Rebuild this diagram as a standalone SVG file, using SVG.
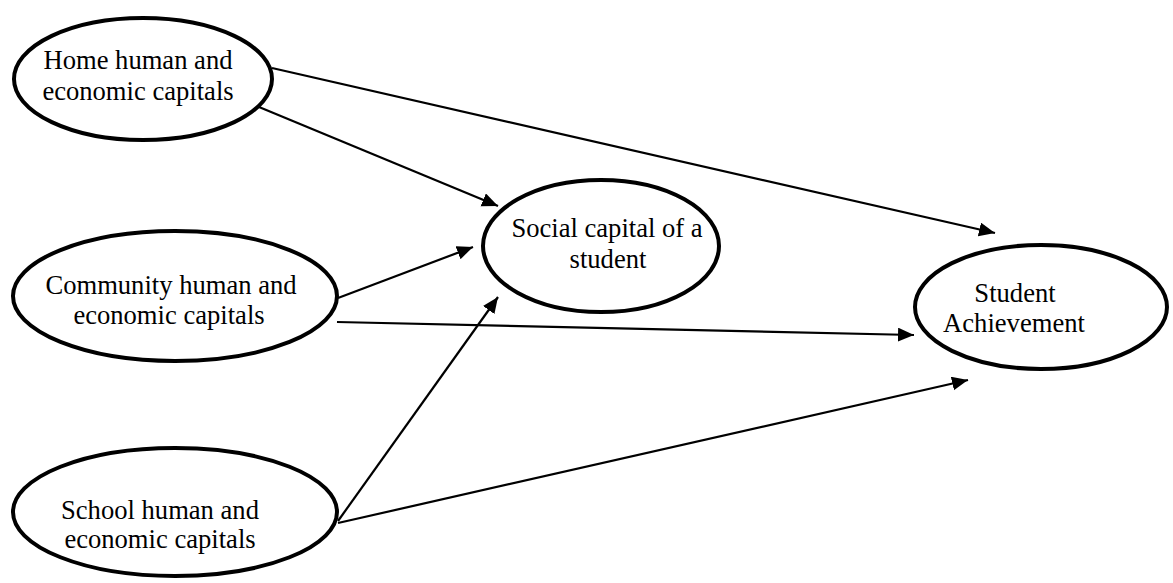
<svg xmlns="http://www.w3.org/2000/svg" width="1173" height="583" viewBox="0 0 1173 583">
  <style>
    .node ellipse { fill: #ffffff; stroke: #000000; stroke-width: 4; }
    .node text { font-family: "Liberation Serif", "Times New Roman", serif; font-size: 26.6px; fill: #000000; text-anchor: middle; }
    .edge { stroke: #000000; stroke-width: 2.2; fill: none; marker-end: url(#arrow); }
  </style>
  <defs>
    <marker id="arrow" markerUnits="userSpaceOnUse" markerWidth="17" markerHeight="15" refX="16" refY="7" orient="auto">
      <path d="M0,0 L16,7 L0,14 Z" fill="#000000"/>
    </marker>
  </defs>
  <rect width="1173" height="583" fill="#ffffff"/>

  <!-- connectors -->
  <g id="connectors">
    <line class="edge" x1="272" y1="68" x2="995" y2="233"/>
    <line class="edge" x1="259" y1="107" x2="498" y2="206"/>
    <line class="edge" x1="338" y1="298" x2="473" y2="247"/>
    <line class="edge" x1="337" y1="322" x2="914" y2="335"/>
    <line class="edge" x1="338" y1="521" x2="498" y2="297"/>
    <line class="edge" x1="338" y1="523" x2="968" y2="380"/>
  </g>

  <!-- sources -->
  <g id="home" class="node">
    <ellipse cx="143" cy="79" rx="129" ry="61"/>
    <text x="138" y="69">Home human and</text>
    <text x="138" y="100">economic capitals</text>
  </g>
  <g id="community" class="node">
    <ellipse cx="175" cy="296" rx="162" ry="65"/>
    <text x="171" y="294">Community human and</text>
    <text x="169" y="324">economic capitals</text>
  </g>
  <g id="school" class="node">
    <ellipse cx="175" cy="512" rx="162" ry="64"/>
    <text x="160" y="519">School human and</text>
    <text x="160" y="548">economic capitals</text>
  </g>

  <!-- mediator -->
  <g id="social" class="node">
    <ellipse cx="601" cy="246" rx="118" ry="66"/>
    <text x="607" y="237">Social capital of a</text>
    <text x="608" y="268">student</text>
  </g>

  <!-- outcome -->
  <g id="achievement" class="node">
    <ellipse cx="1041" cy="307" rx="126" ry="62"/>
    <text x="1015" y="302">Student</text>
    <text x="1014" y="332">Achievement</text>
  </g>
</svg>
